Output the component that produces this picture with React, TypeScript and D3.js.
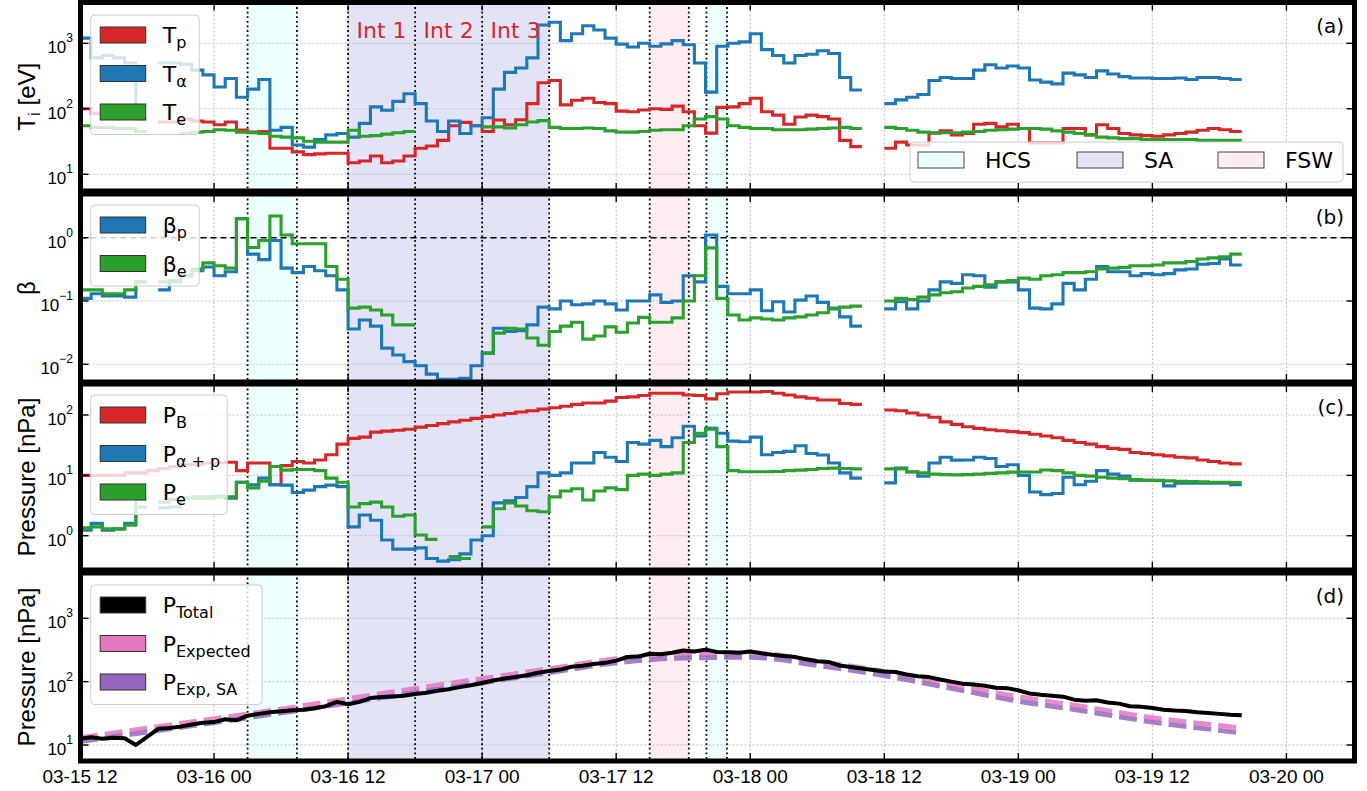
import React from "react";
import * as d3 from "d3";

// 1-hour bins, first bin starts 2022-03-15 12:00 UTC; null = no data
const START = new Date("2022-03-15T12:00:00Z");
const HOUR = 3600 * 1000;

const tP = [
  100, 85, 80, 78, 75, 70, null, 63, 63, 70,
  65, 63, 57, 63, 47.5, 44, 45, 25, 25, 22,
  20, 20.5, 21, 21, 15, 16, 19, 15, 16, 19,
  25, 27, 33, 55, 62, 55, 45, 67.5, 57, 68,
  120, 250, 270, 115, 135, 145, 125, 120, 92, 90,
  96, 100, 98, 110, 90, 55, 42.5, 105, 107, 120,
  145, 90, 80, 58, 75, 80, 76, 70, 33, 26.5,
  null, null, 25, 31, 28, 28, 42.5, 46, 40, 42,
  58, 60, 53, 58, 50, 30, 30, 30, 50, 50,
  40, 57, 50, 42, 40, 39, 38, 40, 42, 44,
  47, 50, 48, 45,
];
const tAlpha = [
  1200, 600, 650, 600, 500, 70, null, 500, 500, 480,
  390, 330, 215, 290, 150, 200, 280, 47, 52, 28,
  26, 34, 40, 42, 37, 60, 107, 95, 130, 170,
  120, 65, 45, 65, 42, 55, 73, 200, 360, 420,
  600, 1900, 2100, 1100, 1400, 1850, 1600, 1200, 970, 880,
  1000, 900, 980, 1100, 950, 500, 180, 900, 1000, 1050,
  1400, 800, 650, 500, 650, 680, 770, 700, 300, 194,
  null, null, 120, 137, 150, 165, 270, 300, 290, 290,
  390, 470, 420, 450, 420, 275, 255, 240, 350, 330,
  300, 380, 340, 310, 295, 295, 290, 290, 295, 280,
  300, 300, 290, 280,
];
const tE = [
  55, 52, 52, 50, 50, 45, null, null, null, 42,
  44, 45, 48, 47, 44, 43, 42, 38, 37, 36,
  32, 31, 31, 31, 47, 38, 39, 41, 43, 45,
  null, null, null, null, null, null, 53, 53, 51, 57,
  63, 66, 52, 50, 50, 51, 50, 46, 44, 44,
  45, 47, 48, 48, 55, 70, 76, 70, 55, 52,
  50, 50, 48, 48, 48, 49, 50, 51, 52, 50,
  null, null, 52, 50, 47, 44, 43, 43, 43, 44,
  45, 47, 48, 49, 50, 50, 49, 46, 44, 42,
  40, 37, 36, 35, 35, 34, 34, 34, 34, 34,
  33, 33, 33, 33,
];

const betaP = [
  0.11, 0.13, 0.12, 0.12, 0.115, 0.2, null, 0.15, 0.2, 0.25,
  0.3, 0.345, 0.25, 0.29, 2.0, 0.55, 0.45, 0.9, 0.33, 0.28,
  0.35, 0.3, 0.25, 0.15, 0.036, 0.05, 0.04, 0.018, 0.014, 0.011,
  0.0095, 0.007, 0.0058, 0.0058, 0.006, 0.0095, 0.015, 0.037, 0.033, 0.034,
  0.042, 0.08, 0.075, 0.1, 0.087, 0.09, 0.1, 0.09, 0.072, 0.1,
  0.1, 0.125, 0.095, 0.1, 0.25, 0.2, 1.1, 0.17, 0.13, 0.13,
  0.15, 0.07, 0.097, 0.067, 0.103, 0.12, 0.095, 0.077, 0.056, 0.04,
  null, null, 0.075, 0.097, 0.075, 0.1, 0.15, 0.2, 0.19, 0.26,
  0.25, 0.165, 0.2, 0.2, 0.15, 0.077, 0.075, 0.09, 0.19, 0.15,
  0.22, 0.35, 0.29, 0.29, 0.25, 0.27, 0.26, 0.27, 0.31, 0.32,
  0.38, 0.39, 0.46, 0.37,
];
const betaE = [
  0.15, 0.15, 0.13, 0.13, 0.15, 0.2, null, 0.2, 0.21, 0.25,
  0.32, 0.4, 0.36, 0.33, 2.0, 0.7, 0.9, 2.2, 1.1, 0.8,
  0.8, 0.8, 0.35, 0.22, 0.077, 0.08, 0.072, 0.06, 0.042, 0.042,
  null, null, null, null, null, null, 0.015, 0.031, 0.037, 0.036,
  0.026, 0.02, 0.033, 0.04, 0.046, 0.025, 0.028, 0.039, 0.032, 0.045,
  0.055, 0.046, 0.046, 0.054, 0.1, 0.25, 0.69, 0.11, 0.06, 0.05,
  0.054, 0.052, 0.05, 0.054, 0.056, 0.06, 0.065, 0.075, 0.08, 0.083,
  null, null, 0.1, 0.11, 0.105, 0.115, 0.125, 0.135, 0.14, 0.16,
  0.17, 0.18, 0.2, 0.21, 0.23, 0.22, 0.25, 0.26, 0.28, 0.28,
  0.29, 0.32, 0.33, 0.34, 0.36, 0.36, 0.37, 0.4, 0.4, 0.42,
  0.46, 0.48, 0.5, 0.55,
];

const pB = [
  10, 10, 10, 10, 11, 11, 12, 13, 14, 15,
  15, 16, 16, 16.5, 12, 16, 16, 7, 14.5, 17,
  16, 18, 22, 33, 41, 43, 52, 54, 56, 58,
  63, 67, 72, 77, 82, 88, 94, 100, 106, 112,
  118, 125, 132, 140, 150, 158, 158, 170, 195, 200,
  210, 230, 230, 230, 215, 210, 185, 225, 240, 240,
  240, 245, 230, 215, 200, 190, 177, 177, 155, 150,
  null, null, 121, 118, 108, 100, 92, 77, 70, 64,
  60, 57, 55, 53, 51, 48, 45, 42, 38, 35,
  33, 30, 28, 27, 24, 23, 22, 21, 20, 19.5,
  18, 17, 16, 15.5,
];
const pAlphaP = [
  1.24, 1.6, 1.24, 1.3, 1.6, 4, null, 2.9, 3, 4.2,
  4.2, 4.2, 4.5, 4.2, 7.7, 7, 9, 7, 6.9, 5.2,
  5.7, 6.5, 6.9, 6.5, 1.4, 2.2, 1.8, 0.85, 0.6, 0.6,
  0.63, 0.42, 0.38, 0.4, 0.5, 0.85, 1.0, 3.5, 3.8, 4.3,
  6.5, 11, 10, 11, 16, 16, 24, 20, 17, 35,
  33, 38, 30, 42, 65, 45, 60, 50, 37, 36,
  43, 22, 24, 25, 31, 23, 21.7, 16, 11, 9,
  null, null, 7.5, 13.2, 11.4, 9.7, 16, 20, 17.9, 18,
  20, 19, 14, 15, 10, 5.3, 4.8, 5, 9.3, 7,
  8, 12, 10.5, 9.7, 8.3, 8.3, 8.3, 6.7, 7.4, 7.4,
  7.4, 7.4, 7.4, 7.0,
];
const pE = [
  1.35, 1.4, 1.3, 1.3, 1.5, 3.0, null, 3.6, 4, 4.2,
  4.4, 4.4, 4.4, 4.4, 7.7, 6.2, 8, 14, 12.2, 12.5,
  12.5, 12, 9, 7.7, 3.0, 3.4, 3.6, 3.0, 2.1, 2.2,
  1.03, 0.87, null, 0.45, 0.42, null, 1.4, 2.8, 3.5, 3.1,
  2.6, 2.5, 4.4, 5.5, 6, 3.9, 5.5, 6.2, 5.8, 10,
  10.5, 10, 10.5, 11, 35, 50, 58, 30, 12, 11.5,
  11.5, 11.5, 11.6, 12, 12.2, 12.5, 13, 13.2, 13, 12.8,
  null, null, 12.8, 12.8, 11.5, 11, 10.5, 10.3, 10.2, 10.3,
  10.5, 10.8, 11, 11.3, 11.4, 11.4, 12.3, 12, 11, 10,
  9.7, 9.3, 9, 8.8, 8.5, 8.3, 8.2, 8.1, 8.0, 7.9,
  7.8, 7.7, 7.7, 7.6,
];

const pTotal = [
  12.6, 13.2, 12.6, 13, 12.8, 10, null, 18, 18.5, 19.5,
  21, 22.5, 23, 25.5, 24.5, 29, 31, 33, 34, 35.5,
  36, 38, 41, 48, 44, 48, 55, 57, 58.5, 60,
  64, 67, 72, 76, 82, 88, 95, 104, 112, 118,
  126, 138, 147, 155, 172, 178, 190, 198, 215, 245,
  250, 275, 270, 285, 310, 300, 320, 295, 290, 285,
  300, 280, 265, 255, 245, 225, 210, 205, 180, 170,
  null, null, 145, 142, 130, 122, 118, 108, 100, 93,
  90, 86, 80, 79, 73, 65, 62, 60, 58, 52,
  50, 51, 47, 45, 41, 40, 38.5, 36, 35, 34.5,
  33, 32, 31, 30, 29.5,
];

// model pressure, hours after start
const expHours = [0, 6, 12, 18, 24, 30, 36, 42, 48, 54, 60, 66, 72, 78, 84, 90, 96, 102, 104];
const pExpected = [13, 18.5, 26, 37, 54, 78, 112, 160, 230, 275, 285, 210, 145, 91, 58, 40, 27, 20.4, 18.6];
const pExpSA = [11.3, 16, 22.5, 32, 46, 67, 96, 138, 198, 236, 242, 180, 124, 78, 49, 34, 23, 17, 15.5];

const regions = [
  { kind: "HCS", start: "2022-03-16T03:00:00Z", end: "2022-03-16T07:25:00Z" },
  { kind: "SA", start: "2022-03-16T12:00:00Z", end: "2022-03-17T06:00:00Z" },
  { kind: "FSW", start: "2022-03-17T15:00:00Z", end: "2022-03-17T18:30:00Z" },
  { kind: "HCS", start: "2022-03-17T20:05:00Z", end: "2022-03-17T21:55:00Z" },
];
const intervalEdges = ["2022-03-16T18:00:00Z", "2022-03-17T00:00:00Z"];
const intervals = [
  { name: "Int 1", mid: "2022-03-16T15:00:00Z" },
  { name: "Int 2", mid: "2022-03-16T21:00:00Z" },
  { name: "Int 3", mid: "2022-03-17T03:00:00Z" },
];

const RED = "#d62728";
const BLUE = "#1f77b4";
const GREEN = "#2ca02c";
const PINK = "#e377c2";
const PURPLE = "#9467bd";
const fill = { HCS: "#ecfefe", SA: "#e3e3f8", FSW: "#fdedf1" };
const legendFill = { HCS: "#ecfefe", SA: "#e3e3f6", FSW: "#feecf0" };

const SANS = "'Liberation Sans', Arial, sans-serif";
const DEJAVU = "'DejaVu Sans', sans-serif";

const LEFT = 80.5;
const RIGHT = 1354.5;

const x = d3
  .scaleUtc()
  .domain([START, new Date(START.getTime() + 114.05 * HOUR)])
  .range([80, 1354]);
const at = (h) => new Date(START.getTime() + h * HOUR);

const panels = [
  { top: 2.5, bottom: 191, lo: 0.745, hi: 3.623, decades: [1, 2, 3], tag: "(a)" },
  { top: 194, bottom: 382, lo: -2.28, hi: 0.69, decades: [-2, -1, 0], tag: "(b)" },
  { top: 384, bottom: 570, lo: -0.568, hi: 2.514, decades: [0, 1, 2], tag: "(c)" },
  { top: 573, bottom: 761, lo: 0.7474, hi: 3.715, decades: [1, 2, 3], tag: "(d)" },
];
const yScales = panels.map((p) =>
  d3.scaleLog().domain([10 ** p.lo, 10 ** p.hi]).range([p.bottom, p.top])
);

// split into runs of valid bins; each bin is held for one hour
function runs(values) {
  const out = [];
  let cur = null;
  values.forEach((v, i) => {
    if (v == null) {
      if (cur) {
        cur.push([i, cur[cur.length - 1][1]]);
        out.push(cur);
        cur = null;
      }
      return;
    }
    if (!cur) cur = [];
    cur.push([i, v]);
  });
  if (cur) {
    cur.push([values.length, cur[cur.length - 1][1]]);
    out.push(cur);
  }
  return out;
}

function StepSeries({ values, y, color }) {
  const line = d3
    .line()
    .x((d) => x(at(d[0])))
    .y((d) => y(d[1]))
    .curve(d3.curveStepAfter);
  return (
    <g>
      {runs(values).map((r, i) => (
        <path key={i} d={line(r)} fill="none" stroke={color} strokeWidth={3.1} strokeLinejoin="miter" />
      ))}
    </g>
  );
}

function Label({ main, sub, x0, y0, size = 22 }) {
  return (
    <text x={x0} y={y0} fontFamily={DEJAVU} fontSize={size} fill="#000">
      {main}
      <tspan dy={5} fontSize={16}>{sub}</tspan>
    </text>
  );
}

function Legend({ x0, y0, w, entries }) {
  const h = 20 + (entries.length - 1) * 38.5 + 22.5;
  return (
    <g>
      <rect x={x0} y={y0} width={w} height={h} rx={4} fill="#fff" fillOpacity={0.8} stroke="#cccccc" strokeWidth={1} />
      {entries.map((e, i) => {
        const cy = y0 + 20 + i * 38.5;
        return (
          <g key={i}>
            <rect x={x0 + 9.5} y={cy - 8} width={45.5} height={16} fill={e.color} stroke="#333" strokeWidth={1} />
            <Label main={e.main} sub={e.sub} x0={x0 + 72} y0={cy + 8} />
          </g>
        );
      })}
    </g>
  );
}

const legends = [
  { w: 108.5, entries: [{ main: "T", sub: "p", color: RED }, { main: "T", sub: "α", color: BLUE }, { main: "T", sub: "e", color: GREEN }] },
  { w: 108.5, entries: [{ main: "β", sub: "p", color: BLUE }, { main: "β", sub: "e", color: GREEN }] },
  { w: 136.5, entries: [{ main: "P", sub: "B", color: RED }, { main: "P", sub: "α + p", color: BLUE }, { main: "P", sub: "e", color: GREEN }] },
  { w: 171.5, entries: [{ main: "P", sub: "Total", color: "#000" }, { main: "P", sub: "Expected", color: PINK }, { main: "P", sub: "Exp, SA", color: PURPLE }] },
];
const legendTop = [15, 205, 395, 585];

function YLabel({ i, cy }) {
  const common = { fontFamily: SANS, fontSize: 24, textAnchor: "middle", transform: `translate(35,${cy}) rotate(-90)` };
  if (i === 0)
    return (
      <text {...common}>
        T<tspan dy={5} fontSize={17}>i</tspan>
        <tspan dy={-5}> [eV]</tspan>
      </text>
    );
  if (i === 1) return <text {...common}>β</text>;
  return <text {...common}>Pressure [nPa]</text>;
}

export default function App() {
  const xTicks = x.ticks(d3.utcHour.every(12));
  const fmt = d3.utcFormat("%m-%d %H");
  const edges = [...regions.flatMap((r) => [r.start, r.end]), ...intervalEdges].map((s) => x(new Date(s)));
  const seriesByPanel = [
    [[tP, RED], [tAlpha, BLUE], [tE, GREEN]],
    [[betaP, BLUE], [betaE, GREEN]],
    [[pB, RED], [pAlphaP, BLUE], [pE, GREEN]],
  ];

  const yd = yScales[3];
  const totalPts = pTotal.map((v, i) => (v == null ? null : [i, v])).filter(Boolean);
  const totalLine = d3.line().x((d) => x(at(d[0]))).y((d) => yd(d[1]));
  const expLine = d3
    .line()
    .x((d) => x(at(d[0])))
    .y((d) => yd(d[1]))
    .curve(d3.curveMonotoneX);

  return (
    <div style={{ position: "absolute", left: 0, top: 0 }}>
      <svg width={1367} height={791} style={{ display: "block", background: "#fff" }}>
        <defs>
          {panels.map((p, i) => (
            <clipPath id={`clip${i}`} key={i}>
              <rect x={LEFT} y={p.top} width={RIGHT - LEFT} height={p.bottom - p.top} />
            </clipPath>
          ))}
        </defs>

        {panels.map((p, i) => {
          const y = yScales[i];
          return (
            <g key={i}>
              <g clipPath={`url(#clip${i})`}>
                {regions.map((r, k) => (
                  <rect
                    key={k}
                    x={x(new Date(r.start))}
                    y={p.top}
                    width={x(new Date(r.end)) - x(new Date(r.start))}
                    height={p.bottom - p.top}
                    fill={fill[r.kind]}
                  />
                ))}
                {xTicks.map((t, k) => (
                  <line key={k} x1={x(t)} x2={x(t)} y1={p.top} y2={p.bottom} stroke="#b8b8b8" strokeWidth={0.9} strokeDasharray="2 2" />
                ))}
                {p.decades.map((d) => (
                  <line key={d} x1={LEFT} x2={RIGHT} y1={y(10 ** d)} y2={y(10 ** d)} stroke="#b8b8b8" strokeWidth={0.9} strokeDasharray="2 2" />
                ))}
                {edges.map((ex, k) => (
                  <line key={k} x1={ex} x2={ex} y1={p.top} y2={p.bottom} stroke="#000" strokeWidth={1.8} strokeDasharray="1.8 2.8" />
                ))}
                {i === 1 && (
                  <line x1={LEFT} x2={RIGHT} y1={y(1)} y2={y(1)} stroke="#000" strokeWidth={1.4} strokeDasharray="6 4" />
                )}
                {i < 3 &&
                  seriesByPanel[i].map(([vals, c], k) => <StepSeries key={k} values={vals} y={y} color={c} />)}
                {i === 3 && (
                  <g>
                    <path
                      d={expLine(expHours.map((h, k) => [h, pExpected[k]]))}
                      fill="none"
                      stroke={PINK}
                      strokeOpacity={0.85}
                      strokeWidth={4.8}
                      strokeDasharray="18 7"
                    />
                    <path
                      d={expLine(expHours.map((h, k) => [h, pExpSA[k]]))}
                      fill="none"
                      stroke={PURPLE}
                      strokeOpacity={0.85}
                      strokeWidth={4.8}
                      strokeDasharray="18 7"
                    />
                    <path d={totalLine(totalPts)} fill="none" stroke="#000" strokeWidth={4} strokeLinejoin="round" />
                  </g>
                )}
              </g>

              <Legend x0={90.7} y0={legendTop[i]} w={legends[i].w} entries={legends[i].entries} />

              {/* ticks */}
              {xTicks.map((t, k) => (
                <g key={k}>
                  <line x1={x(t)} x2={x(t)} y1={p.top} y2={p.top + 8} stroke="#000" strokeWidth={1.4} />
                  <line x1={x(t)} x2={x(t)} y1={p.bottom} y2={p.bottom - 8} stroke="#000" strokeWidth={1.4} />
                </g>
              ))}
              {p.decades.map((d) => {
                const yy = y(10 ** d);
                return (
                  <g key={d}>
                    <line x1={LEFT} x2={LEFT + 8} y1={yy} y2={yy} stroke="#000" strokeWidth={1.4} />
                    <line x1={RIGHT} x2={RIGHT - 8} y1={yy} y2={yy} stroke="#000" strokeWidth={1.4} />
                    <text x={73} y={yy + 10} textAnchor="end" fontFamily={SANS} fontSize={17}>
                      10
                      <tspan dy={-11} fontSize={12}>{d < 0 ? `−${-d}` : `${d}`}</tspan>
                    </text>
                  </g>
                );
              })}
              <rect x={LEFT} y={p.top} width={RIGHT - LEFT} height={p.bottom - p.top} fill="none" stroke="#000" strokeWidth={5} />
              <text x={1344} y={p.top + 30} textAnchor="end" fontFamily={DEJAVU} fontSize={20}>
                {p.tag}
              </text>
              <YLabel i={i} cy={(p.top + p.bottom) / 2} />
            </g>
          );
        })}

        {intervals.map((iv) => (
          <text key={iv.name} x={x(new Date(iv.mid))} y={38} textAnchor="middle" fontFamily={DEJAVU} fontSize={22} fill={RED}>
            {iv.name}
          </text>
        ))}

        {/* region legend */}
        <g>
          <rect x={910} y={142} width={433} height={40} rx={4} fill="#fff" fillOpacity={0.8} stroke="#cccccc" />
          {[
            ["HCS", 918],
            ["SA", 1077],
            ["FSW", 1218],
          ].map(([k, px]) => (
            <g key={k}>
              <rect x={px} y={152} width={46} height={16} fill={legendFill[k]} stroke="#444" strokeWidth={1} />
              <text x={px + 67} y={168} fontFamily={DEJAVU} fontSize={22}>
                {k}
              </text>
            </g>
          ))}
        </g>

        {xTicks.map((t, k) => (
          <text key={k} x={x(t)} y={783} textAnchor="middle" fontFamily={SANS} fontSize={19}>
            {fmt(t)}
          </text>
        ))}
      </svg>
    </div>
  );
}
